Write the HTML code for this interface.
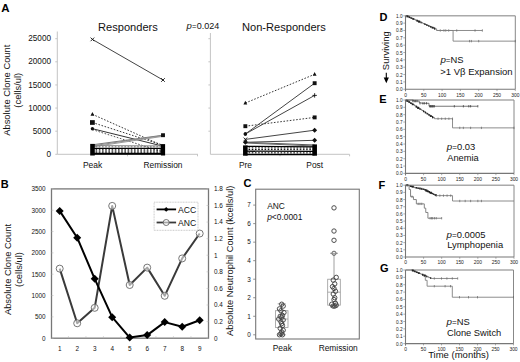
<!DOCTYPE html>
<html><head><meta charset="utf-8"><style>
html,body{margin:0;padding:0;background:#fff;width:520px;height:362px;overflow:hidden}
svg{display:block}
text{font-family:"Liberation Sans",sans-serif}
</style></head><body>
<svg width="520" height="362" viewBox="0 0 520 362" font-family="Liberation Sans, sans-serif">
<rect width="520" height="362" fill="#fff"/>
<text x="1.30" y="12.30" font-size="11.5" text-anchor="start" font-weight="bold" fill="#000" >A</text>
<line x1="57.30" y1="31.50" x2="57.30" y2="154.30" stroke="#c4c4c4" stroke-width="1" />
<line x1="57.30" y1="154.30" x2="198.00" y2="154.30" stroke="#c4c4c4" stroke-width="1" />
<line x1="55.30" y1="154.30" x2="57.30" y2="154.30" stroke="#c4c4c4" stroke-width="1" />
<text x="51.00" y="156.90" font-size="8.2" text-anchor="end" font-weight="normal" fill="#111" >0</text>
<line x1="55.30" y1="131.18" x2="57.30" y2="131.18" stroke="#c4c4c4" stroke-width="1" />
<text x="51.00" y="133.78" font-size="8.2" text-anchor="end" font-weight="normal" fill="#111" >5000</text>
<line x1="55.30" y1="108.06" x2="57.30" y2="108.06" stroke="#c4c4c4" stroke-width="1" />
<text x="51.00" y="110.66" font-size="8.2" text-anchor="end" font-weight="normal" fill="#111" >10000</text>
<line x1="55.30" y1="84.94" x2="57.30" y2="84.94" stroke="#c4c4c4" stroke-width="1" />
<text x="51.00" y="87.54" font-size="8.2" text-anchor="end" font-weight="normal" fill="#111" >15000</text>
<line x1="55.30" y1="61.82" x2="57.30" y2="61.82" stroke="#c4c4c4" stroke-width="1" />
<text x="51.00" y="64.42" font-size="8.2" text-anchor="end" font-weight="normal" fill="#111" >20000</text>
<line x1="55.30" y1="38.70" x2="57.30" y2="38.70" stroke="#c4c4c4" stroke-width="1" />
<text x="51.00" y="41.30" font-size="8.2" text-anchor="end" font-weight="normal" fill="#111" >25000</text>
<line x1="210.40" y1="33.00" x2="210.40" y2="154.30" stroke="#c4c4c4" stroke-width="1" />
<line x1="210.40" y1="154.30" x2="349.60" y2="154.30" stroke="#c4c4c4" stroke-width="1" />
<line x1="208.40" y1="131.18" x2="210.40" y2="131.18" stroke="#c4c4c4" stroke-width="1" />
<line x1="208.40" y1="108.06" x2="210.40" y2="108.06" stroke="#c4c4c4" stroke-width="1" />
<line x1="208.40" y1="84.94" x2="210.40" y2="84.94" stroke="#c4c4c4" stroke-width="1" />
<line x1="208.40" y1="61.82" x2="210.40" y2="61.82" stroke="#c4c4c4" stroke-width="1" />
<line x1="208.40" y1="38.70" x2="210.40" y2="38.70" stroke="#c4c4c4" stroke-width="1" />
<line x1="127.50" y1="154.30" x2="127.50" y2="156.30" stroke="#c4c4c4" stroke-width="1" />
<line x1="197.50" y1="154.30" x2="197.50" y2="156.30" stroke="#c4c4c4" stroke-width="1" />
<line x1="280.00" y1="154.30" x2="280.00" y2="156.30" stroke="#c4c4c4" stroke-width="1" />
<line x1="349.60" y1="154.30" x2="349.60" y2="156.30" stroke="#c4c4c4" stroke-width="1" />
<text x="98.00" y="30.60" font-size="11.1" text-anchor="start" font-weight="normal" fill="#111" >Responders</text>
<text x="242.00" y="30.60" font-size="11.1" text-anchor="start" font-weight="normal" fill="#111" >Non-Responders</text>
<text x="186.4" y="29.4" font-size="9.0" fill="#111"><tspan font-style="italic" font-size="9.6">p</tspan><tspan font-size="7.5" dx="0.3">=</tspan><tspan dx="0.2">0.024</tspan></text>
<g transform="translate(9.9,90.2) rotate(-90)"><text x="0" y="0" font-size="9.4" text-anchor="middle" fill="#111">Absolute Clone Count</text><text x="0" y="11.2" font-size="9.4" text-anchor="middle" fill="#111">(cells/ul)</text></g>
<text x="92.60" y="168.40" font-size="8.5" text-anchor="middle" font-weight="normal" fill="#111" >Peak</text>
<text x="163.00" y="168.40" font-size="8.4" text-anchor="middle" font-weight="normal" fill="#111" >Remission</text>
<text x="245.40" y="168.40" font-size="8.4" text-anchor="middle" font-weight="normal" fill="#111" >Pre</text>
<text x="314.70" y="168.40" font-size="8.4" text-anchor="middle" font-weight="normal" fill="#111" >Post</text>
<line x1="92.40" y1="39.40" x2="163.00" y2="80.00" stroke="#444" stroke-width="1.0" />
<line x1="92.40" y1="114.30" x2="163.00" y2="145.80" stroke="#222" stroke-width="0.9" stroke-dasharray="1.6,1.6"/>
<line x1="92.40" y1="122.50" x2="163.00" y2="145.20" stroke="#222" stroke-width="0.9" stroke-dasharray="1.6,1.6"/>
<line x1="92.40" y1="128.70" x2="163.00" y2="146.20" stroke="#333" stroke-width="1.0" />
<line x1="92.40" y1="129.60" x2="163.00" y2="152.00" stroke="#444" stroke-width="0.9" stroke-dasharray="1.6,1.6"/>
<line x1="92.40" y1="144.80" x2="163.00" y2="135.20" stroke="#777" stroke-width="1.0" />
<line x1="92.40" y1="145.80" x2="163.00" y2="135.60" stroke="#8a8a8a" stroke-width="1.0" />
<line x1="92.40" y1="146.80" x2="163.00" y2="136.30" stroke="#999" stroke-width="1.0" />
<line x1="92.40" y1="145.60" x2="163.00" y2="145.90" stroke="#888" stroke-width="1.0" />
<line x1="92.40" y1="146.80" x2="163.00" y2="146.80" stroke="#666" stroke-width="0.9" stroke-dasharray="1.6,1.6"/>
<line x1="92.40" y1="148.30" x2="163.00" y2="148.30" stroke="#000" stroke-width="1.3" />
<line x1="92.40" y1="149.70" x2="163.00" y2="149.90" stroke="#111" stroke-width="1.0" stroke-dasharray="1.6,1.6"/>
<line x1="92.40" y1="151.00" x2="163.00" y2="151.00" stroke="#111" stroke-width="1.0" stroke-dasharray="1.6,1.6"/>
<line x1="92.40" y1="152.20" x2="163.00" y2="152.20" stroke="#111" stroke-width="1.0" stroke-dasharray="1.6,1.6"/>
<line x1="92.40" y1="153.30" x2="163.00" y2="153.30" stroke="#000" stroke-width="1.3" />
<line x1="92.40" y1="154.30" x2="163.00" y2="154.30" stroke="#000" stroke-width="1.0" />
<line x1="90.60" y1="37.60" x2="94.20" y2="41.20" stroke="#111" stroke-width="0.9" />
<line x1="90.60" y1="41.20" x2="94.20" y2="37.60" stroke="#111" stroke-width="0.9" />
<line x1="161.20" y1="78.20" x2="164.80" y2="81.80" stroke="#111" stroke-width="0.9" />
<line x1="161.20" y1="81.80" x2="164.80" y2="78.20" stroke="#111" stroke-width="0.9" />
<polygon points="92.40,112.10 94.30,115.80 90.50,115.80" fill="#111"/>
<rect x="90.00" y="120.15" width="4.8" height="4.7" fill="#111"/>
<circle cx="92.40" cy="128.70" r="1.70" fill="#111"/>
<rect x="161.05" y="133.25" width="3.90" height="3.90" fill="#111"/>
<rect x="90.2" y="143.9" width="4.6" height="11.6" fill="#000"/>
<rect x="160.9" y="144.1" width="4.2" height="11.4" fill="#000"/>
<line x1="245.35" y1="103.00" x2="314.65" y2="74.30" stroke="#222" stroke-width="0.9" stroke-dasharray="1.6,1.6"/>
<line x1="245.35" y1="126.20" x2="314.65" y2="117.40" stroke="#222" stroke-width="0.9" stroke-dasharray="1.6,1.6"/>
<line x1="245.35" y1="134.00" x2="314.65" y2="83.20" stroke="#444" stroke-width="1.0" />
<line x1="245.35" y1="134.00" x2="314.65" y2="95.40" stroke="#444" stroke-width="1.0" />
<line x1="245.35" y1="139.40" x2="314.65" y2="130.20" stroke="#444" stroke-width="1.0" />
<line x1="245.35" y1="142.30" x2="314.65" y2="140.30" stroke="#444" stroke-width="1.0" />
<line x1="245.35" y1="142.30" x2="314.65" y2="145.00" stroke="#555" stroke-width="1.0" />
<line x1="245.35" y1="143.00" x2="314.65" y2="146.00" stroke="#666" stroke-width="1.0" />
<line x1="245.35" y1="146.30" x2="314.65" y2="146.80" stroke="#000" stroke-width="1.3" />
<line x1="245.35" y1="147.90" x2="314.65" y2="148.10" stroke="#000" stroke-width="1.0" stroke-dasharray="1.6,1.6"/>
<line x1="245.35" y1="149.50" x2="314.65" y2="149.70" stroke="#000" stroke-width="1.0" stroke-dasharray="1.6,1.6"/>
<line x1="245.35" y1="151.20" x2="314.65" y2="151.40" stroke="#000" stroke-width="1.3" />
<line x1="245.35" y1="152.80" x2="314.65" y2="152.90" stroke="#000" stroke-width="1.0" stroke-dasharray="1.6,1.6"/>
<line x1="245.35" y1="154.50" x2="314.65" y2="154.50" stroke="#000" stroke-width="1.5" />
<polygon points="245.35,100.80 247.25,104.50 243.45,104.50" fill="#111"/>
<polygon points="314.65,72.10 316.55,75.80 312.75,75.80" fill="#111"/>
<rect x="243.40" y="124.25" width="3.90" height="3.90" fill="#111"/>
<rect x="312.70" y="115.45" width="3.90" height="3.90" fill="#111"/>
<circle cx="245.35" cy="134.00" r="1.70" fill="#111"/>
<rect x="312.70" y="81.25" width="3.90" height="3.90" fill="#111"/>
<circle cx="245.35" cy="134.00" r="1.70" fill="#111"/>
<line x1="312.45" y1="95.40" x2="316.85" y2="95.40" stroke="#111" stroke-width="0.9" />
<line x1="314.65" y1="93.20" x2="314.65" y2="97.60" stroke="#111" stroke-width="0.9" />
<line x1="243.55" y1="137.60" x2="247.15" y2="141.20" stroke="#111" stroke-width="0.9" />
<line x1="243.55" y1="141.20" x2="247.15" y2="137.60" stroke="#111" stroke-width="0.9" />
<polygon points="314.65,127.70 317.15,130.20 314.65,132.70 312.15,130.20" fill="#111"/>
<polygon points="245.35,139.80 247.85,142.30 245.35,144.80 242.85,142.30" fill="#111"/>
<polygon points="314.65,137.80 317.15,140.30 314.65,142.80 312.15,140.30" fill="#111"/>
<rect x="243.05" y="145.4" width="4.6" height="10.3" fill="#000"/>
<rect x="312.35" y="144.4" width="4.6" height="11.3" fill="#000"/>
<text x="0.70" y="187.60" font-size="11.0" text-anchor="start" font-weight="bold" fill="#000" >B</text>
<rect x="51.50" y="188.90" width="157.00" height="149.30" stroke="#777" stroke-width="1.3" fill="none"/>
<line x1="51.50" y1="338.20" x2="53.50" y2="338.20" stroke="#bbb" stroke-width="0.6" />
<text x="45.60" y="340.50" font-size="6.4" text-anchor="end" font-weight="normal" fill="#111" >0</text>
<line x1="51.50" y1="316.87" x2="53.50" y2="316.87" stroke="#bbb" stroke-width="0.6" />
<text x="45.60" y="319.17" font-size="6.4" text-anchor="end" font-weight="normal" fill="#111" >500</text>
<line x1="51.50" y1="295.54" x2="53.50" y2="295.54" stroke="#bbb" stroke-width="0.6" />
<text x="45.60" y="297.84" font-size="6.4" text-anchor="end" font-weight="normal" fill="#111" >1000</text>
<line x1="51.50" y1="274.21" x2="53.50" y2="274.21" stroke="#bbb" stroke-width="0.6" />
<text x="45.60" y="276.51" font-size="6.4" text-anchor="end" font-weight="normal" fill="#111" >1500</text>
<line x1="51.50" y1="252.89" x2="53.50" y2="252.89" stroke="#bbb" stroke-width="0.6" />
<text x="45.60" y="255.19" font-size="6.4" text-anchor="end" font-weight="normal" fill="#111" >2000</text>
<line x1="51.50" y1="231.56" x2="53.50" y2="231.56" stroke="#bbb" stroke-width="0.6" />
<text x="45.60" y="233.86" font-size="6.4" text-anchor="end" font-weight="normal" fill="#111" >2500</text>
<line x1="51.50" y1="210.23" x2="53.50" y2="210.23" stroke="#bbb" stroke-width="0.6" />
<text x="45.60" y="212.53" font-size="6.4" text-anchor="end" font-weight="normal" fill="#111" >3000</text>
<line x1="51.50" y1="188.90" x2="53.50" y2="188.90" stroke="#bbb" stroke-width="0.6" />
<text x="45.60" y="191.20" font-size="6.4" text-anchor="end" font-weight="normal" fill="#111" >3500</text>
<line x1="206.50" y1="338.20" x2="208.50" y2="338.20" stroke="#bbb" stroke-width="0.6" />
<text x="214.00" y="340.50" font-size="6.4" text-anchor="start" font-weight="normal" fill="#111" >0</text>
<line x1="206.50" y1="321.61" x2="208.50" y2="321.61" stroke="#bbb" stroke-width="0.6" />
<text x="214.00" y="323.91" font-size="6.4" text-anchor="start" font-weight="normal" fill="#111" >0.2</text>
<line x1="206.50" y1="305.02" x2="208.50" y2="305.02" stroke="#bbb" stroke-width="0.6" />
<text x="214.00" y="307.32" font-size="6.4" text-anchor="start" font-weight="normal" fill="#111" >0.4</text>
<line x1="206.50" y1="288.43" x2="208.50" y2="288.43" stroke="#bbb" stroke-width="0.6" />
<text x="214.00" y="290.73" font-size="6.4" text-anchor="start" font-weight="normal" fill="#111" >0.6</text>
<line x1="206.50" y1="271.84" x2="208.50" y2="271.84" stroke="#bbb" stroke-width="0.6" />
<text x="214.00" y="274.14" font-size="6.4" text-anchor="start" font-weight="normal" fill="#111" >0.8</text>
<line x1="206.50" y1="255.26" x2="208.50" y2="255.26" stroke="#bbb" stroke-width="0.6" />
<text x="214.00" y="257.56" font-size="6.4" text-anchor="start" font-weight="normal" fill="#111" >1</text>
<line x1="206.50" y1="238.67" x2="208.50" y2="238.67" stroke="#bbb" stroke-width="0.6" />
<text x="214.00" y="240.97" font-size="6.4" text-anchor="start" font-weight="normal" fill="#111" >1.2</text>
<line x1="206.50" y1="222.08" x2="208.50" y2="222.08" stroke="#bbb" stroke-width="0.6" />
<text x="214.00" y="224.38" font-size="6.4" text-anchor="start" font-weight="normal" fill="#111" >1.4</text>
<line x1="206.50" y1="205.49" x2="208.50" y2="205.49" stroke="#bbb" stroke-width="0.6" />
<text x="214.00" y="207.79" font-size="6.4" text-anchor="start" font-weight="normal" fill="#111" >1.6</text>
<line x1="206.50" y1="188.90" x2="208.50" y2="188.90" stroke="#bbb" stroke-width="0.6" />
<text x="214.00" y="191.20" font-size="6.4" text-anchor="start" font-weight="normal" fill="#111" >1.8</text>
<line x1="68.45" y1="338.20" x2="68.45" y2="336.20" stroke="#bbb" stroke-width="0.6" />
<text x="59.70" y="350.90" font-size="6.4" text-anchor="middle" font-weight="normal" fill="#111" >1</text>
<line x1="85.95" y1="338.20" x2="85.95" y2="336.20" stroke="#bbb" stroke-width="0.6" />
<text x="77.20" y="350.90" font-size="6.4" text-anchor="middle" font-weight="normal" fill="#111" >2</text>
<line x1="103.45" y1="338.20" x2="103.45" y2="336.20" stroke="#bbb" stroke-width="0.6" />
<text x="94.70" y="350.90" font-size="6.4" text-anchor="middle" font-weight="normal" fill="#111" >3</text>
<line x1="120.95" y1="338.20" x2="120.95" y2="336.20" stroke="#bbb" stroke-width="0.6" />
<text x="112.20" y="350.90" font-size="6.4" text-anchor="middle" font-weight="normal" fill="#111" >4</text>
<line x1="138.45" y1="338.20" x2="138.45" y2="336.20" stroke="#bbb" stroke-width="0.6" />
<text x="129.70" y="350.90" font-size="6.4" text-anchor="middle" font-weight="normal" fill="#111" >5</text>
<line x1="155.95" y1="338.20" x2="155.95" y2="336.20" stroke="#bbb" stroke-width="0.6" />
<text x="147.20" y="350.90" font-size="6.4" text-anchor="middle" font-weight="normal" fill="#111" >6</text>
<line x1="173.45" y1="338.20" x2="173.45" y2="336.20" stroke="#bbb" stroke-width="0.6" />
<text x="164.70" y="350.90" font-size="6.4" text-anchor="middle" font-weight="normal" fill="#111" >7</text>
<line x1="190.95" y1="338.20" x2="190.95" y2="336.20" stroke="#bbb" stroke-width="0.6" />
<text x="182.20" y="350.90" font-size="6.4" text-anchor="middle" font-weight="normal" fill="#111" >8</text>
<text x="199.70" y="350.90" font-size="6.4" text-anchor="middle" font-weight="normal" fill="#111" >9</text>
<polyline points="59.70,268.61 77.20,323.27 94.70,307.84 112.20,205.90 129.70,285.03 147.20,267.61 164.70,295.82 182.20,258.41 199.70,233.52" stroke="#3a3a3a" stroke-width="2.0" fill="none" stroke-linejoin="round"/>
<polyline points="59.70,210.91 77.20,237.70 94.70,278.82 112.20,317.21 129.70,337.60 147.20,335.09 164.70,322.12 182.20,326.81 199.70,320.28" stroke="#000" stroke-width="2.0" fill="none" stroke-linejoin="round"/>
<circle cx="59.70" cy="268.61" r="3.5" fill="rgba(255,255,255,0.55)" stroke="#666" stroke-width="0.9"/>
<circle cx="77.20" cy="323.27" r="3.5" fill="rgba(255,255,255,0.55)" stroke="#666" stroke-width="0.9"/>
<circle cx="94.70" cy="307.84" r="3.5" fill="rgba(255,255,255,0.55)" stroke="#666" stroke-width="0.9"/>
<circle cx="112.20" cy="205.90" r="3.5" fill="rgba(255,255,255,0.55)" stroke="#666" stroke-width="0.9"/>
<circle cx="129.70" cy="285.03" r="3.5" fill="rgba(255,255,255,0.55)" stroke="#666" stroke-width="0.9"/>
<circle cx="147.20" cy="267.61" r="3.5" fill="rgba(255,255,255,0.55)" stroke="#666" stroke-width="0.9"/>
<circle cx="164.70" cy="295.82" r="3.5" fill="rgba(255,255,255,0.55)" stroke="#666" stroke-width="0.9"/>
<circle cx="182.20" cy="258.41" r="3.5" fill="rgba(255,255,255,0.55)" stroke="#666" stroke-width="0.9"/>
<circle cx="199.70" cy="233.52" r="3.5" fill="rgba(255,255,255,0.55)" stroke="#666" stroke-width="0.9"/>
<polygon points="59.70,206.91 63.70,210.91 59.70,214.91 55.70,210.91" fill="#000"/>
<polygon points="77.20,233.70 81.20,237.70 77.20,241.70 73.20,237.70" fill="#000"/>
<polygon points="94.70,274.82 98.70,278.82 94.70,282.82 90.70,278.82" fill="#000"/>
<polygon points="112.20,313.21 116.20,317.21 112.20,321.21 108.20,317.21" fill="#000"/>
<polygon points="129.70,333.60 133.70,337.60 129.70,341.60 125.70,337.60" fill="#000"/>
<polygon points="147.20,331.09 151.20,335.09 147.20,339.09 143.20,335.09" fill="#000"/>
<polygon points="164.70,318.12 168.70,322.12 164.70,326.12 160.70,322.12" fill="#000"/>
<polygon points="182.20,322.81 186.20,326.81 182.20,330.81 178.20,326.81" fill="#000"/>
<polygon points="199.70,316.28 203.70,320.28 199.70,324.28 195.70,320.28" fill="#000"/>
<rect x="154.1" y="202.2" width="43.9" height="28.1" fill="white" stroke="#bbb" stroke-width="0.8" stroke-dasharray="1,0.6"/>
<line x1="156.60" y1="209.40" x2="176.10" y2="209.40" stroke="#000" stroke-width="1.8" />
<polygon points="166.2,207.0 168.6,209.4 166.2,211.8 163.8,209.4" fill="#000"/>
<line x1="156.60" y1="222.50" x2="176.10" y2="222.50" stroke="#3a3a3a" stroke-width="1.8" />
<circle cx="166.2" cy="222.5" r="3.0" fill="rgba(255,255,255,0.55)" stroke="#666" stroke-width="0.9"/>
<text x="178.00" y="213.20" font-size="8.6" text-anchor="start" font-weight="normal" fill="#111" >ACC</text>
<text x="178.00" y="225.60" font-size="8.6" text-anchor="start" font-weight="normal" fill="#111" >ANC</text>
<g transform="translate(11.2,269.5) rotate(-90)"><text x="0" y="0" font-size="9.4" text-anchor="middle" fill="#111">Absolute Clone Count</text><text x="0" y="11.2" font-size="9.4" text-anchor="middle" fill="#111">(cells/ul)</text></g>
<g transform="translate(233.2,260.8) rotate(-90)"><text x="0" y="0" font-size="9.3" text-anchor="middle" fill="#111">Absolute Neutrophil Count (kcells/ul)</text></g>
<text x="243.50" y="186.90" font-size="11.0" text-anchor="start" font-weight="bold" fill="#000" >C</text>
<rect x="255.70" y="189.20" width="103.60" height="149.80" stroke="#777" stroke-width="1.1" fill="none"/>
<line x1="253.20" y1="334.80" x2="255.70" y2="334.80" stroke="#777" stroke-width="0.8" />
<text x="250.70" y="337.10" font-size="6.4" text-anchor="end" font-weight="normal" fill="#111" >0</text>
<line x1="253.20" y1="316.27" x2="255.70" y2="316.27" stroke="#777" stroke-width="0.8" />
<text x="250.70" y="318.57" font-size="6.4" text-anchor="end" font-weight="normal" fill="#111" >1</text>
<line x1="253.20" y1="297.74" x2="255.70" y2="297.74" stroke="#777" stroke-width="0.8" />
<text x="250.70" y="300.04" font-size="6.4" text-anchor="end" font-weight="normal" fill="#111" >2</text>
<line x1="253.20" y1="279.21" x2="255.70" y2="279.21" stroke="#777" stroke-width="0.8" />
<text x="250.70" y="281.51" font-size="6.4" text-anchor="end" font-weight="normal" fill="#111" >3</text>
<line x1="253.20" y1="260.68" x2="255.70" y2="260.68" stroke="#777" stroke-width="0.8" />
<text x="250.70" y="262.98" font-size="6.4" text-anchor="end" font-weight="normal" fill="#111" >4</text>
<line x1="253.20" y1="242.15" x2="255.70" y2="242.15" stroke="#777" stroke-width="0.8" />
<text x="250.70" y="244.45" font-size="6.4" text-anchor="end" font-weight="normal" fill="#111" >5</text>
<line x1="253.20" y1="223.62" x2="255.70" y2="223.62" stroke="#777" stroke-width="0.8" />
<text x="250.70" y="225.92" font-size="6.4" text-anchor="end" font-weight="normal" fill="#111" >6</text>
<line x1="253.20" y1="205.09" x2="255.70" y2="205.09" stroke="#777" stroke-width="0.8" />
<text x="250.70" y="207.39" font-size="6.4" text-anchor="end" font-weight="normal" fill="#111" >7</text>
<text x="267.20" y="209.30" font-size="8.4" text-anchor="start" font-weight="normal" fill="#111" >ANC</text>
<text x="267.2" y="219.7" font-size="8.4" fill="#111"><tspan font-style="italic">p</tspan>&lt;0.0001</text>
<text x="282.30" y="350.60" font-size="8.4" text-anchor="middle" font-weight="normal" fill="#111" >Peak</text>
<text x="338.20" y="350.60" font-size="8.4" text-anchor="middle" font-weight="normal" fill="#111" >Remission</text>
<line x1="281.70" y1="303.85" x2="281.70" y2="310.71" stroke="#888" stroke-width="0.8" />
<line x1="281.70" y1="327.39" x2="281.70" y2="334.80" stroke="#888" stroke-width="0.8" />
<line x1="277.70" y1="303.85" x2="285.70" y2="303.85" stroke="#888" stroke-width="0.8" />
<line x1="277.70" y1="334.80" x2="285.70" y2="334.80" stroke="#888" stroke-width="0.8" />
<rect x="275.40" y="310.71" width="12.60" height="16.68" stroke="#999" stroke-width="0.8" fill="none"/>
<line x1="275.40" y1="319.05" x2="288.00" y2="319.05" stroke="#999" stroke-width="0.8" />
<circle cx="279.45" cy="308.86" r="2.2" fill="none" stroke="#444" stroke-width="0.95"/>
<circle cx="283.20" cy="306.08" r="2.2" fill="none" stroke="#444" stroke-width="0.95"/>
<circle cx="281.70" cy="304.23" r="2.2" fill="none" stroke="#444" stroke-width="0.95"/>
<circle cx="280.95" cy="310.71" r="2.2" fill="none" stroke="#444" stroke-width="0.95"/>
<circle cx="283.95" cy="312.56" r="2.2" fill="none" stroke="#444" stroke-width="0.95"/>
<circle cx="282.45" cy="315.34" r="2.2" fill="none" stroke="#444" stroke-width="0.95"/>
<circle cx="280.20" cy="316.27" r="2.2" fill="none" stroke="#444" stroke-width="0.95"/>
<circle cx="281.70" cy="317.20" r="2.2" fill="none" stroke="#444" stroke-width="0.95"/>
<circle cx="278.70" cy="319.05" r="2.2" fill="none" stroke="#444" stroke-width="0.95"/>
<circle cx="283.20" cy="319.98" r="2.2" fill="none" stroke="#444" stroke-width="0.95"/>
<circle cx="280.95" cy="321.83" r="2.2" fill="none" stroke="#444" stroke-width="0.95"/>
<circle cx="281.70" cy="323.68" r="2.2" fill="none" stroke="#444" stroke-width="0.95"/>
<circle cx="282.45" cy="325.54" r="2.2" fill="none" stroke="#444" stroke-width="0.95"/>
<circle cx="280.20" cy="328.31" r="2.2" fill="none" stroke="#444" stroke-width="0.95"/>
<circle cx="283.20" cy="330.17" r="2.2" fill="none" stroke="#444" stroke-width="0.95"/>
<circle cx="281.70" cy="332.02" r="2.2" fill="none" stroke="#444" stroke-width="0.95"/>
<circle cx="280.95" cy="333.87" r="2.2" fill="none" stroke="#444" stroke-width="0.95"/>
<circle cx="282.45" cy="334.80" r="2.2" fill="none" stroke="#444" stroke-width="0.95"/>
<circle cx="279.45" cy="334.80" r="2.2" fill="none" stroke="#444" stroke-width="0.95"/>
<line x1="334.00" y1="253.27" x2="334.00" y2="279.21" stroke="#888" stroke-width="0.8" />
<line x1="334.00" y1="305.15" x2="334.00" y2="307.00" stroke="#888" stroke-width="0.8" />
<line x1="330.00" y1="253.27" x2="338.00" y2="253.27" stroke="#888" stroke-width="0.8" />
<line x1="330.00" y1="307.00" x2="338.00" y2="307.00" stroke="#888" stroke-width="0.8" />
<rect x="327.70" y="279.21" width="12.60" height="25.94" stroke="#999" stroke-width="0.8" fill="none"/>
<line x1="327.70" y1="292.18" x2="340.30" y2="292.18" stroke="#999" stroke-width="0.8" />
<circle cx="336.25" cy="277.36" r="2.2" fill="none" stroke="#444" stroke-width="0.95"/>
<circle cx="333.25" cy="280.14" r="2.2" fill="none" stroke="#444" stroke-width="0.95"/>
<circle cx="334.75" cy="283.84" r="2.2" fill="none" stroke="#444" stroke-width="0.95"/>
<circle cx="332.50" cy="286.62" r="2.2" fill="none" stroke="#444" stroke-width="0.95"/>
<circle cx="334.00" cy="288.48" r="2.2" fill="none" stroke="#444" stroke-width="0.95"/>
<circle cx="335.50" cy="291.25" r="2.2" fill="none" stroke="#444" stroke-width="0.95"/>
<circle cx="333.25" cy="294.03" r="2.2" fill="none" stroke="#444" stroke-width="0.95"/>
<circle cx="334.75" cy="297.74" r="2.2" fill="none" stroke="#444" stroke-width="0.95"/>
<circle cx="334.00" cy="299.59" r="2.2" fill="none" stroke="#444" stroke-width="0.95"/>
<circle cx="331.75" cy="304.23" r="2.2" fill="none" stroke="#444" stroke-width="0.95"/>
<circle cx="336.25" cy="305.15" r="2.2" fill="none" stroke="#444" stroke-width="0.95"/>
<circle cx="333.25" cy="306.08" r="2.2" fill="none" stroke="#444" stroke-width="0.95"/>
<circle cx="334.75" cy="306.08" r="2.2" fill="none" stroke="#444" stroke-width="0.95"/>
<circle cx="335.50" cy="303.30" r="2.2" fill="none" stroke="#444" stroke-width="0.95"/>
<circle cx="334.00" cy="240.30" r="2.2" fill="none" stroke="#444" stroke-width="0.95"/>
<circle cx="334.00" cy="231.03" r="2.2" fill="none" stroke="#444" stroke-width="0.95"/>
<circle cx="334.00" cy="207.87" r="2.2" fill="none" stroke="#444" stroke-width="0.95"/>
<circle cx="334.0" cy="253.27" r="2.1" fill="none" stroke="#555" stroke-width="0.9"/>
<text x="379.60" y="21.20" font-size="11.0" text-anchor="start" font-weight="bold" fill="#000" >D</text>
<line x1="405.50" y1="15.80" x2="515.30" y2="15.80" stroke="#aaa" stroke-width="1.5" />
<line x1="515.30" y1="15.80" x2="515.30" y2="89.25" stroke="#888" stroke-width="1.0" />
<line x1="405.50" y1="15.80" x2="405.50" y2="91.25" stroke="#777" stroke-width="1.1" />
<line x1="405.50" y1="89.25" x2="515.30" y2="89.25" stroke="#777" stroke-width="1.1" />
<line x1="403.30" y1="89.25" x2="405.50" y2="89.25" stroke="#777" stroke-width="0.6" />
<text x="402.50" y="91.25" font-size="4.7" text-anchor="end" font-weight="normal" fill="#222" >0.0</text>
<line x1="403.30" y1="81.91" x2="405.50" y2="81.91" stroke="#777" stroke-width="0.6" />
<text x="402.50" y="83.91" font-size="4.7" text-anchor="end" font-weight="normal" fill="#222" >0.1</text>
<line x1="403.30" y1="74.56" x2="405.50" y2="74.56" stroke="#777" stroke-width="0.6" />
<text x="402.50" y="76.56" font-size="4.7" text-anchor="end" font-weight="normal" fill="#222" >0.2</text>
<line x1="403.30" y1="67.22" x2="405.50" y2="67.22" stroke="#777" stroke-width="0.6" />
<text x="402.50" y="69.22" font-size="4.7" text-anchor="end" font-weight="normal" fill="#222" >0.3</text>
<line x1="403.30" y1="59.87" x2="405.50" y2="59.87" stroke="#777" stroke-width="0.6" />
<text x="402.50" y="61.87" font-size="4.7" text-anchor="end" font-weight="normal" fill="#222" >0.4</text>
<line x1="403.30" y1="52.52" x2="405.50" y2="52.52" stroke="#777" stroke-width="0.6" />
<text x="402.50" y="54.52" font-size="4.7" text-anchor="end" font-weight="normal" fill="#222" >0.5</text>
<line x1="403.30" y1="45.18" x2="405.50" y2="45.18" stroke="#777" stroke-width="0.6" />
<text x="402.50" y="47.18" font-size="4.7" text-anchor="end" font-weight="normal" fill="#222" >0.6</text>
<line x1="403.30" y1="37.84" x2="405.50" y2="37.84" stroke="#777" stroke-width="0.6" />
<text x="402.50" y="39.84" font-size="4.7" text-anchor="end" font-weight="normal" fill="#222" >0.7</text>
<line x1="403.30" y1="30.49" x2="405.50" y2="30.49" stroke="#777" stroke-width="0.6" />
<text x="402.50" y="32.49" font-size="4.7" text-anchor="end" font-weight="normal" fill="#222" >0.8</text>
<line x1="403.30" y1="23.14" x2="405.50" y2="23.14" stroke="#777" stroke-width="0.6" />
<text x="402.50" y="25.14" font-size="4.7" text-anchor="end" font-weight="normal" fill="#222" >0.9</text>
<line x1="403.30" y1="15.80" x2="405.50" y2="15.80" stroke="#777" stroke-width="0.6" />
<text x="402.50" y="17.80" font-size="4.7" text-anchor="end" font-weight="normal" fill="#222" >1.0</text>
<line x1="405.50" y1="89.25" x2="405.50" y2="91.05" stroke="#777" stroke-width="0.6" />
<text x="405.50" y="96.55" font-size="4.9" text-anchor="middle" font-weight="normal" fill="#222" >0</text>
<line x1="423.80" y1="89.25" x2="423.80" y2="91.05" stroke="#777" stroke-width="0.6" />
<text x="423.80" y="96.55" font-size="4.9" text-anchor="middle" font-weight="normal" fill="#222" >50</text>
<line x1="442.10" y1="89.25" x2="442.10" y2="91.05" stroke="#777" stroke-width="0.6" />
<text x="442.10" y="96.55" font-size="4.9" text-anchor="middle" font-weight="normal" fill="#222" >100</text>
<line x1="460.40" y1="89.25" x2="460.40" y2="91.05" stroke="#777" stroke-width="0.6" />
<text x="460.40" y="96.55" font-size="4.9" text-anchor="middle" font-weight="normal" fill="#222" >150</text>
<line x1="478.70" y1="89.25" x2="478.70" y2="91.05" stroke="#777" stroke-width="0.6" />
<text x="478.70" y="96.55" font-size="4.9" text-anchor="middle" font-weight="normal" fill="#222" >200</text>
<line x1="497.00" y1="89.25" x2="497.00" y2="91.05" stroke="#777" stroke-width="0.6" />
<text x="497.00" y="96.55" font-size="4.9" text-anchor="middle" font-weight="normal" fill="#222" >250</text>
<line x1="515.30" y1="89.25" x2="515.30" y2="91.05" stroke="#777" stroke-width="0.6" />
<text x="515.30" y="96.55" font-size="4.9" text-anchor="middle" font-weight="normal" fill="#222" >300</text>
<text x="379.30" y="103.30" font-size="11.0" text-anchor="start" font-weight="bold" fill="#000" >E</text>
<line x1="405.50" y1="100.00" x2="514.00" y2="100.00" stroke="#aaa" stroke-width="1.5" />
<line x1="514.00" y1="100.00" x2="514.00" y2="173.40" stroke="#888" stroke-width="1.0" />
<line x1="405.50" y1="100.00" x2="405.50" y2="175.40" stroke="#777" stroke-width="1.1" />
<line x1="405.50" y1="173.40" x2="514.00" y2="173.40" stroke="#777" stroke-width="1.1" />
<line x1="403.30" y1="173.40" x2="405.50" y2="173.40" stroke="#777" stroke-width="0.6" />
<text x="402.50" y="175.40" font-size="4.7" text-anchor="end" font-weight="normal" fill="#222" >0.0</text>
<line x1="403.30" y1="166.06" x2="405.50" y2="166.06" stroke="#777" stroke-width="0.6" />
<text x="402.50" y="168.06" font-size="4.7" text-anchor="end" font-weight="normal" fill="#222" >0.1</text>
<line x1="403.30" y1="158.72" x2="405.50" y2="158.72" stroke="#777" stroke-width="0.6" />
<text x="402.50" y="160.72" font-size="4.7" text-anchor="end" font-weight="normal" fill="#222" >0.2</text>
<line x1="403.30" y1="151.38" x2="405.50" y2="151.38" stroke="#777" stroke-width="0.6" />
<text x="402.50" y="153.38" font-size="4.7" text-anchor="end" font-weight="normal" fill="#222" >0.3</text>
<line x1="403.30" y1="144.04" x2="405.50" y2="144.04" stroke="#777" stroke-width="0.6" />
<text x="402.50" y="146.04" font-size="4.7" text-anchor="end" font-weight="normal" fill="#222" >0.4</text>
<line x1="403.30" y1="136.70" x2="405.50" y2="136.70" stroke="#777" stroke-width="0.6" />
<text x="402.50" y="138.70" font-size="4.7" text-anchor="end" font-weight="normal" fill="#222" >0.5</text>
<line x1="403.30" y1="129.36" x2="405.50" y2="129.36" stroke="#777" stroke-width="0.6" />
<text x="402.50" y="131.36" font-size="4.7" text-anchor="end" font-weight="normal" fill="#222" >0.6</text>
<line x1="403.30" y1="122.02" x2="405.50" y2="122.02" stroke="#777" stroke-width="0.6" />
<text x="402.50" y="124.02" font-size="4.7" text-anchor="end" font-weight="normal" fill="#222" >0.7</text>
<line x1="403.30" y1="114.68" x2="405.50" y2="114.68" stroke="#777" stroke-width="0.6" />
<text x="402.50" y="116.68" font-size="4.7" text-anchor="end" font-weight="normal" fill="#222" >0.8</text>
<line x1="403.30" y1="107.34" x2="405.50" y2="107.34" stroke="#777" stroke-width="0.6" />
<text x="402.50" y="109.34" font-size="4.7" text-anchor="end" font-weight="normal" fill="#222" >0.9</text>
<line x1="403.30" y1="100.00" x2="405.50" y2="100.00" stroke="#777" stroke-width="0.6" />
<text x="402.50" y="102.00" font-size="4.7" text-anchor="end" font-weight="normal" fill="#222" >1.0</text>
<line x1="405.50" y1="173.40" x2="405.50" y2="175.20" stroke="#777" stroke-width="0.6" />
<text x="405.50" y="180.70" font-size="4.9" text-anchor="middle" font-weight="normal" fill="#222" >0</text>
<line x1="423.58" y1="173.40" x2="423.58" y2="175.20" stroke="#777" stroke-width="0.6" />
<text x="423.58" y="180.70" font-size="4.9" text-anchor="middle" font-weight="normal" fill="#222" >50</text>
<line x1="441.67" y1="173.40" x2="441.67" y2="175.20" stroke="#777" stroke-width="0.6" />
<text x="441.67" y="180.70" font-size="4.9" text-anchor="middle" font-weight="normal" fill="#222" >100</text>
<line x1="459.75" y1="173.40" x2="459.75" y2="175.20" stroke="#777" stroke-width="0.6" />
<text x="459.75" y="180.70" font-size="4.9" text-anchor="middle" font-weight="normal" fill="#222" >150</text>
<line x1="477.83" y1="173.40" x2="477.83" y2="175.20" stroke="#777" stroke-width="0.6" />
<text x="477.83" y="180.70" font-size="4.9" text-anchor="middle" font-weight="normal" fill="#222" >200</text>
<line x1="495.92" y1="173.40" x2="495.92" y2="175.20" stroke="#777" stroke-width="0.6" />
<text x="495.92" y="180.70" font-size="4.9" text-anchor="middle" font-weight="normal" fill="#222" >250</text>
<line x1="514.00" y1="173.40" x2="514.00" y2="175.20" stroke="#777" stroke-width="0.6" />
<text x="514.00" y="180.70" font-size="4.9" text-anchor="middle" font-weight="normal" fill="#222" >300</text>
<text x="378.50" y="188.60" font-size="11.0" text-anchor="start" font-weight="bold" fill="#000" >F</text>
<line x1="405.50" y1="185.20" x2="514.00" y2="185.20" stroke="#aaa" stroke-width="1.5" />
<line x1="514.00" y1="185.20" x2="514.00" y2="257.00" stroke="#888" stroke-width="1.0" />
<line x1="405.50" y1="185.20" x2="405.50" y2="259.00" stroke="#777" stroke-width="1.1" />
<line x1="405.50" y1="257.00" x2="514.00" y2="257.00" stroke="#777" stroke-width="1.1" />
<line x1="403.30" y1="257.00" x2="405.50" y2="257.00" stroke="#777" stroke-width="0.6" />
<text x="402.50" y="259.00" font-size="4.7" text-anchor="end" font-weight="normal" fill="#222" >0.0</text>
<line x1="403.30" y1="249.82" x2="405.50" y2="249.82" stroke="#777" stroke-width="0.6" />
<text x="402.50" y="251.82" font-size="4.7" text-anchor="end" font-weight="normal" fill="#222" >0.1</text>
<line x1="403.30" y1="242.64" x2="405.50" y2="242.64" stroke="#777" stroke-width="0.6" />
<text x="402.50" y="244.64" font-size="4.7" text-anchor="end" font-weight="normal" fill="#222" >0.2</text>
<line x1="403.30" y1="235.46" x2="405.50" y2="235.46" stroke="#777" stroke-width="0.6" />
<text x="402.50" y="237.46" font-size="4.7" text-anchor="end" font-weight="normal" fill="#222" >0.3</text>
<line x1="403.30" y1="228.28" x2="405.50" y2="228.28" stroke="#777" stroke-width="0.6" />
<text x="402.50" y="230.28" font-size="4.7" text-anchor="end" font-weight="normal" fill="#222" >0.4</text>
<line x1="403.30" y1="221.10" x2="405.50" y2="221.10" stroke="#777" stroke-width="0.6" />
<text x="402.50" y="223.10" font-size="4.7" text-anchor="end" font-weight="normal" fill="#222" >0.5</text>
<line x1="403.30" y1="213.92" x2="405.50" y2="213.92" stroke="#777" stroke-width="0.6" />
<text x="402.50" y="215.92" font-size="4.7" text-anchor="end" font-weight="normal" fill="#222" >0.6</text>
<line x1="403.30" y1="206.74" x2="405.50" y2="206.74" stroke="#777" stroke-width="0.6" />
<text x="402.50" y="208.74" font-size="4.7" text-anchor="end" font-weight="normal" fill="#222" >0.7</text>
<line x1="403.30" y1="199.56" x2="405.50" y2="199.56" stroke="#777" stroke-width="0.6" />
<text x="402.50" y="201.56" font-size="4.7" text-anchor="end" font-weight="normal" fill="#222" >0.8</text>
<line x1="403.30" y1="192.38" x2="405.50" y2="192.38" stroke="#777" stroke-width="0.6" />
<text x="402.50" y="194.38" font-size="4.7" text-anchor="end" font-weight="normal" fill="#222" >0.9</text>
<line x1="403.30" y1="185.20" x2="405.50" y2="185.20" stroke="#777" stroke-width="0.6" />
<text x="402.50" y="187.20" font-size="4.7" text-anchor="end" font-weight="normal" fill="#222" >1.0</text>
<line x1="405.50" y1="257.00" x2="405.50" y2="258.80" stroke="#777" stroke-width="0.6" />
<text x="405.50" y="264.30" font-size="4.9" text-anchor="middle" font-weight="normal" fill="#222" >0</text>
<line x1="423.58" y1="257.00" x2="423.58" y2="258.80" stroke="#777" stroke-width="0.6" />
<text x="423.58" y="264.30" font-size="4.9" text-anchor="middle" font-weight="normal" fill="#222" >50</text>
<line x1="441.67" y1="257.00" x2="441.67" y2="258.80" stroke="#777" stroke-width="0.6" />
<text x="441.67" y="264.30" font-size="4.9" text-anchor="middle" font-weight="normal" fill="#222" >100</text>
<line x1="459.75" y1="257.00" x2="459.75" y2="258.80" stroke="#777" stroke-width="0.6" />
<text x="459.75" y="264.30" font-size="4.9" text-anchor="middle" font-weight="normal" fill="#222" >150</text>
<line x1="477.83" y1="257.00" x2="477.83" y2="258.80" stroke="#777" stroke-width="0.6" />
<text x="477.83" y="264.30" font-size="4.9" text-anchor="middle" font-weight="normal" fill="#222" >200</text>
<line x1="495.92" y1="257.00" x2="495.92" y2="258.80" stroke="#777" stroke-width="0.6" />
<text x="495.92" y="264.30" font-size="4.9" text-anchor="middle" font-weight="normal" fill="#222" >250</text>
<line x1="514.00" y1="257.00" x2="514.00" y2="258.80" stroke="#777" stroke-width="0.6" />
<text x="514.00" y="264.30" font-size="4.9" text-anchor="middle" font-weight="normal" fill="#222" >300</text>
<text x="380.00" y="272.20" font-size="11.0" text-anchor="start" font-weight="bold" fill="#000" >G</text>
<line x1="405.50" y1="270.00" x2="513.50" y2="270.00" stroke="#aaa" stroke-width="1.5" />
<line x1="513.50" y1="270.00" x2="513.50" y2="343.60" stroke="#888" stroke-width="1.0" />
<line x1="405.50" y1="270.00" x2="405.50" y2="345.60" stroke="#777" stroke-width="1.1" />
<line x1="405.50" y1="343.60" x2="513.50" y2="343.60" stroke="#777" stroke-width="1.1" />
<line x1="403.30" y1="343.60" x2="405.50" y2="343.60" stroke="#777" stroke-width="0.6" />
<text x="402.50" y="345.60" font-size="4.7" text-anchor="end" font-weight="normal" fill="#222" >0.0</text>
<line x1="403.30" y1="336.24" x2="405.50" y2="336.24" stroke="#777" stroke-width="0.6" />
<text x="402.50" y="338.24" font-size="4.7" text-anchor="end" font-weight="normal" fill="#222" >0.1</text>
<line x1="403.30" y1="328.88" x2="405.50" y2="328.88" stroke="#777" stroke-width="0.6" />
<text x="402.50" y="330.88" font-size="4.7" text-anchor="end" font-weight="normal" fill="#222" >0.2</text>
<line x1="403.30" y1="321.52" x2="405.50" y2="321.52" stroke="#777" stroke-width="0.6" />
<text x="402.50" y="323.52" font-size="4.7" text-anchor="end" font-weight="normal" fill="#222" >0.3</text>
<line x1="403.30" y1="314.16" x2="405.50" y2="314.16" stroke="#777" stroke-width="0.6" />
<text x="402.50" y="316.16" font-size="4.7" text-anchor="end" font-weight="normal" fill="#222" >0.4</text>
<line x1="403.30" y1="306.80" x2="405.50" y2="306.80" stroke="#777" stroke-width="0.6" />
<text x="402.50" y="308.80" font-size="4.7" text-anchor="end" font-weight="normal" fill="#222" >0.5</text>
<line x1="403.30" y1="299.44" x2="405.50" y2="299.44" stroke="#777" stroke-width="0.6" />
<text x="402.50" y="301.44" font-size="4.7" text-anchor="end" font-weight="normal" fill="#222" >0.6</text>
<line x1="403.30" y1="292.08" x2="405.50" y2="292.08" stroke="#777" stroke-width="0.6" />
<text x="402.50" y="294.08" font-size="4.7" text-anchor="end" font-weight="normal" fill="#222" >0.7</text>
<line x1="403.30" y1="284.72" x2="405.50" y2="284.72" stroke="#777" stroke-width="0.6" />
<text x="402.50" y="286.72" font-size="4.7" text-anchor="end" font-weight="normal" fill="#222" >0.8</text>
<line x1="403.30" y1="277.36" x2="405.50" y2="277.36" stroke="#777" stroke-width="0.6" />
<text x="402.50" y="279.36" font-size="4.7" text-anchor="end" font-weight="normal" fill="#222" >0.9</text>
<line x1="403.30" y1="270.00" x2="405.50" y2="270.00" stroke="#777" stroke-width="0.6" />
<text x="402.50" y="272.00" font-size="4.7" text-anchor="end" font-weight="normal" fill="#222" >1.0</text>
<line x1="405.50" y1="343.60" x2="405.50" y2="345.40" stroke="#777" stroke-width="0.6" />
<text x="405.50" y="350.90" font-size="4.9" text-anchor="middle" font-weight="normal" fill="#222" >0</text>
<line x1="423.50" y1="343.60" x2="423.50" y2="345.40" stroke="#777" stroke-width="0.6" />
<text x="423.50" y="350.90" font-size="4.9" text-anchor="middle" font-weight="normal" fill="#222" >50</text>
<line x1="441.50" y1="343.60" x2="441.50" y2="345.40" stroke="#777" stroke-width="0.6" />
<text x="441.50" y="350.90" font-size="4.9" text-anchor="middle" font-weight="normal" fill="#222" >100</text>
<line x1="459.50" y1="343.60" x2="459.50" y2="345.40" stroke="#777" stroke-width="0.6" />
<text x="459.50" y="350.90" font-size="4.9" text-anchor="middle" font-weight="normal" fill="#222" >150</text>
<line x1="477.50" y1="343.60" x2="477.50" y2="345.40" stroke="#777" stroke-width="0.6" />
<text x="477.50" y="350.90" font-size="4.9" text-anchor="middle" font-weight="normal" fill="#222" >200</text>
<line x1="495.50" y1="343.60" x2="495.50" y2="345.40" stroke="#777" stroke-width="0.6" />
<text x="495.50" y="350.90" font-size="4.9" text-anchor="middle" font-weight="normal" fill="#222" >250</text>
<line x1="513.50" y1="343.60" x2="513.50" y2="345.40" stroke="#777" stroke-width="0.6" />
<text x="513.50" y="350.90" font-size="4.9" text-anchor="middle" font-weight="normal" fill="#222" >300</text>
<path d="M405.50,15.80 H407.44 V16.67 H409.39 V17.54 H411.33 V18.42 H413.28 V19.29 H415.22 V20.16 H417.17 V21.03 H419.11 V21.91 H421.06 V22.78 H423.00 V23.65 H424.94 V24.52 H426.89 V25.39 H428.83 V26.27 H430.78 V27.14 H432.72 V28.01 H434.67 V28.88 H436.61 V29.76" fill="none" stroke="#555" stroke-width="0.8"/>
<rect x="406.44" y="15.39" width="2.02" height="1.96" fill="#222"/>
<rect x="408.59" y="16.42" width="1.59" height="1.65" fill="#222"/>
<rect x="410.36" y="17.47" width="1.95" height="1.29" fill="#222"/>
<rect x="412.28" y="18.17" width="2.00" height="1.63" fill="#222"/>
<rect x="416.40" y="19.77" width="1.53" height="1.92" fill="#222"/>
<rect x="418.04" y="20.55" width="2.13" height="2.10" fill="#222"/>
<rect x="420.54" y="21.61" width="1.03" height="1.74" fill="#222"/>
<rect x="424.31" y="23.41" width="1.26" height="1.62" fill="#222"/>
<rect x="426.26" y="24.28" width="1.27" height="1.64" fill="#222"/>
<rect x="428.19" y="25.25" width="1.28" height="1.43" fill="#222"/>
<rect x="430.00" y="26.09" width="1.55" height="1.49" fill="#222"/>
<rect x="431.72" y="26.83" width="2.01" height="1.76" fill="#222"/>
<rect x="434.05" y="27.49" width="1.22" height="2.19" fill="#222"/>
<path d="M436.61,29.76 H436.61 V30.49 H482.36 V30.49" fill="none" stroke="#808080" stroke-width="0.9"/>
<line x1="440.27" y1="29.29" x2="440.27" y2="31.69" stroke="#666" stroke-width="0.7" />
<line x1="443.93" y1="29.29" x2="443.93" y2="31.69" stroke="#666" stroke-width="0.7" />
<line x1="445.76" y1="29.29" x2="445.76" y2="31.69" stroke="#666" stroke-width="0.7" />
<line x1="448.69" y1="29.29" x2="448.69" y2="31.69" stroke="#666" stroke-width="0.7" />
<line x1="456.74" y1="29.29" x2="456.74" y2="31.69" stroke="#666" stroke-width="0.7" />
<line x1="475.04" y1="29.29" x2="475.04" y2="31.69" stroke="#666" stroke-width="0.7" />
<line x1="482.36" y1="29.29" x2="482.36" y2="31.69" stroke="#666" stroke-width="0.7" />
<path d="M436.61,30.49 H453.08 V30.49 H453.08 V41.14 H515.30 V41.14" fill="none" stroke="#808080" stroke-width="0.9"/>
<line x1="469.55" y1="39.94" x2="469.55" y2="42.34" stroke="#666" stroke-width="0.7" />
<line x1="471.38" y1="39.94" x2="471.38" y2="42.34" stroke="#666" stroke-width="0.7" />
<line x1="478.70" y1="39.94" x2="478.70" y2="42.34" stroke="#666" stroke-width="0.7" />
<line x1="515.30" y1="39.94" x2="515.30" y2="42.34" stroke="#666" stroke-width="0.7" />
<text x="440.4" y="63.3" font-size="9.4" fill="#111"><tspan font-style="italic" font-size="9.8">p</tspan><tspan font-size="8">=</tspan>NS</text>
<text x="440.30" y="74.70" font-size="9.5" text-anchor="start" font-weight="normal" fill="#111" >&gt;1 V&#946; Expansion</text>
<g transform="translate(389.0,50.75) rotate(-90)"><text x="0" y="0" font-size="9.45" text-anchor="middle" fill="#111">Surviving</text></g>
<line x1="386.30" y1="72.80" x2="386.30" y2="79.00" stroke="#000" stroke-width="1.1" />
<polygon points="383.7,77.6 388.9,77.6 386.3,83.3" fill="#000"/>
<path d="M405.50,100.00 H407.31 V101.17 H409.12 V102.34 H410.93 V103.51 H412.73 V104.68 H414.54 V105.85 H416.35 V107.02 H418.16 V108.19 H419.97 V109.36 H421.77 V110.53 H423.58 V111.70 H425.39 V112.87 H427.20 V114.04 H429.01 V115.21 H430.82 V116.38 H432.62 V117.55 H434.43 V118.72" fill="none" stroke="#555" stroke-width="0.8"/>
<rect x="406.30" y="99.89" width="2.02" height="1.96" fill="#222"/>
<rect x="408.32" y="101.21" width="1.59" height="1.65" fill="#222"/>
<rect x="409.95" y="102.56" width="1.95" height="1.29" fill="#222"/>
<rect x="411.73" y="103.56" width="2.00" height="1.63" fill="#222"/>
<rect x="415.58" y="105.76" width="1.53" height="1.92" fill="#222"/>
<rect x="417.09" y="106.84" width="2.13" height="2.10" fill="#222"/>
<rect x="419.45" y="108.19" width="1.03" height="1.74" fill="#222"/>
<rect x="422.95" y="110.59" width="1.26" height="1.62" fill="#222"/>
<rect x="424.76" y="111.75" width="1.27" height="1.64" fill="#222"/>
<rect x="426.56" y="113.02" width="1.28" height="1.43" fill="#222"/>
<rect x="428.23" y="114.16" width="1.55" height="1.49" fill="#222"/>
<rect x="429.81" y="115.20" width="2.01" height="1.76" fill="#222"/>
<rect x="432.01" y="116.15" width="1.22" height="2.19" fill="#222"/>
<path d="M434.43,118.72 H452.52 V118.72 H452.52 V127.89 H514.00 V127.89" fill="none" stroke="#808080" stroke-width="0.9"/>
<line x1="438.05" y1="117.52" x2="438.05" y2="119.92" stroke="#666" stroke-width="0.7" />
<line x1="441.67" y1="117.52" x2="441.67" y2="119.92" stroke="#666" stroke-width="0.7" />
<line x1="445.28" y1="117.52" x2="445.28" y2="119.92" stroke="#666" stroke-width="0.7" />
<line x1="448.90" y1="117.52" x2="448.90" y2="119.92" stroke="#666" stroke-width="0.7" />
<line x1="452.52" y1="117.52" x2="452.52" y2="119.92" stroke="#666" stroke-width="0.7" />
<line x1="459.75" y1="126.69" x2="459.75" y2="129.09" stroke="#666" stroke-width="0.7" />
<line x1="463.37" y1="126.69" x2="463.37" y2="129.09" stroke="#666" stroke-width="0.7" />
<line x1="470.60" y1="126.69" x2="470.60" y2="129.09" stroke="#666" stroke-width="0.7" />
<line x1="481.45" y1="126.69" x2="481.45" y2="129.09" stroke="#666" stroke-width="0.7" />
<line x1="514.00" y1="126.69" x2="514.00" y2="129.09" stroke="#666" stroke-width="0.7" />
<path d="M405.50,100.00 H413.46 V100.00 H413.46 V101.10 H419.24 V101.10 H419.24 V102.94 H421.77 V102.94 H421.77 V103.30 H429.01 V103.30 H429.01 V106.24 H477.83 V106.24" fill="none" stroke="#666" stroke-width="0.9"/>
<line x1="412.73" y1="99.90" x2="412.73" y2="102.30" stroke="#333" stroke-width="0.7" />
<line x1="414.18" y1="99.90" x2="414.18" y2="102.30" stroke="#333" stroke-width="0.7" />
<line x1="415.63" y1="99.90" x2="415.63" y2="102.30" stroke="#333" stroke-width="0.7" />
<line x1="417.07" y1="99.90" x2="417.07" y2="102.30" stroke="#333" stroke-width="0.7" />
<line x1="419.97" y1="102.10" x2="419.97" y2="104.50" stroke="#333" stroke-width="0.7" />
<line x1="422.86" y1="102.10" x2="422.86" y2="104.50" stroke="#333" stroke-width="0.7" />
<line x1="424.31" y1="102.10" x2="424.31" y2="104.50" stroke="#333" stroke-width="0.7" />
<line x1="426.48" y1="102.10" x2="426.48" y2="104.50" stroke="#333" stroke-width="0.7" />
<line x1="429.73" y1="105.04" x2="429.73" y2="107.44" stroke="#333" stroke-width="0.7" />
<line x1="430.45" y1="105.04" x2="430.45" y2="107.44" stroke="#333" stroke-width="0.7" />
<line x1="431.18" y1="105.04" x2="431.18" y2="107.44" stroke="#333" stroke-width="0.7" />
<line x1="431.90" y1="105.04" x2="431.90" y2="107.44" stroke="#333" stroke-width="0.7" />
<line x1="432.62" y1="105.04" x2="432.62" y2="107.44" stroke="#333" stroke-width="0.7" />
<line x1="433.35" y1="105.04" x2="433.35" y2="107.44" stroke="#333" stroke-width="0.7" />
<line x1="434.43" y1="105.04" x2="434.43" y2="107.44" stroke="#333" stroke-width="0.7" />
<line x1="454.32" y1="105.04" x2="454.32" y2="107.44" stroke="#333" stroke-width="0.7" />
<line x1="463.37" y1="105.04" x2="463.37" y2="107.44" stroke="#333" stroke-width="0.7" />
<line x1="468.79" y1="105.04" x2="468.79" y2="107.44" stroke="#333" stroke-width="0.7" />
<line x1="470.60" y1="105.04" x2="470.60" y2="107.44" stroke="#333" stroke-width="0.7" />
<line x1="477.83" y1="105.04" x2="477.83" y2="107.44" stroke="#333" stroke-width="0.7" />
<text x="446.8" y="149.6" font-size="9.4" fill="#111"><tspan font-style="italic" font-size="9.8">p</tspan><tspan font-size="8">=</tspan>0.03</text>
<text x="447.20" y="160.50" font-size="9.3" text-anchor="start" font-weight="normal" fill="#111" >Anemia</text>
<path d="M405.50,185.20 H407.31 V185.56 H409.12 V185.92 H410.93 V186.64 H412.73 V187.00 H414.54 V187.71 H416.35 V188.07 H418.16 V188.43 H419.97 V188.79 H421.77 V189.15 H423.58 V189.51 H425.39 V190.23 H426.48 V190.94 H427.92 V191.66 H429.37 V192.38 H430.82 V193.10 H432.26 V193.82 H433.71 V194.53 H435.16 V195.25 H436.24 V195.61" fill="none" stroke="#555" stroke-width="0.8"/>
<rect x="406.36" y="184.26" width="1.89" height="2.00" fill="#222"/>
<rect x="409.87" y="185.72" width="2.11" height="1.23" fill="#222"/>
<rect x="411.67" y="185.77" width="2.13" height="1.85" fill="#222"/>
<rect x="415.57" y="187.05" width="1.56" height="1.45" fill="#222"/>
<rect x="417.31" y="187.52" width="1.69" height="1.21" fill="#222"/>
<rect x="419.30" y="187.43" width="1.34" height="2.12" fill="#222"/>
<rect x="421.18" y="187.85" width="1.19" height="2.00" fill="#222"/>
<rect x="422.71" y="188.54" width="1.74" height="1.33" fill="#222"/>
<rect x="424.37" y="189.22" width="2.05" height="1.41" fill="#222"/>
<rect x="425.39" y="189.61" width="2.18" height="2.07" fill="#222"/>
<rect x="426.85" y="190.49" width="2.15" height="1.74" fill="#222"/>
<rect x="428.75" y="191.01" width="1.25" height="2.14" fill="#222"/>
<rect x="429.74" y="191.75" width="2.16" height="2.09" fill="#222"/>
<rect x="431.55" y="192.83" width="1.43" height="1.37" fill="#222"/>
<rect x="433.17" y="193.48" width="1.08" height="1.50" fill="#222"/>
<rect x="434.65" y="194.01" width="1.00" height="1.88" fill="#222"/>
<rect x="435.56" y="194.30" width="1.37" height="2.02" fill="#222"/>
<path d="M436.24,195.61 H452.52 V195.61 H452.52 V201.00 H514.00 V201.00" fill="none" stroke="#808080" stroke-width="0.9"/>
<line x1="439.86" y1="194.41" x2="439.86" y2="196.81" stroke="#666" stroke-width="0.7" />
<line x1="443.48" y1="194.41" x2="443.48" y2="196.81" stroke="#666" stroke-width="0.7" />
<line x1="447.09" y1="194.41" x2="447.09" y2="196.81" stroke="#666" stroke-width="0.7" />
<line x1="450.71" y1="194.41" x2="450.71" y2="196.81" stroke="#666" stroke-width="0.7" />
<line x1="459.75" y1="199.80" x2="459.75" y2="202.20" stroke="#666" stroke-width="0.7" />
<line x1="465.18" y1="199.80" x2="465.18" y2="202.20" stroke="#666" stroke-width="0.7" />
<line x1="470.60" y1="199.80" x2="470.60" y2="202.20" stroke="#666" stroke-width="0.7" />
<line x1="477.83" y1="199.80" x2="477.83" y2="202.20" stroke="#666" stroke-width="0.7" />
<line x1="481.45" y1="199.80" x2="481.45" y2="202.20" stroke="#666" stroke-width="0.7" />
<path d="M405.50,185.20 H409.12 V185.20 H409.12 V189.51 H410.56 V189.51 H410.56 V196.69 H413.46 V196.69 H413.46 V199.56 H416.35 V199.56 H416.35 V203.87 H424.31 V203.87 H424.31 V208.18 H425.75 V208.18 H425.75 V212.48 H427.92 V212.48 H427.92 V218.23 H441.67 V218.23" fill="none" stroke="#777" stroke-width="0.9"/>
<line x1="430.09" y1="217.03" x2="430.09" y2="219.43" stroke="#666" stroke-width="0.7" />
<line x1="431.54" y1="217.03" x2="431.54" y2="219.43" stroke="#666" stroke-width="0.7" />
<line x1="432.62" y1="217.03" x2="432.62" y2="219.43" stroke="#666" stroke-width="0.7" />
<line x1="434.43" y1="217.03" x2="434.43" y2="219.43" stroke="#666" stroke-width="0.7" />
<line x1="436.24" y1="217.03" x2="436.24" y2="219.43" stroke="#666" stroke-width="0.7" />
<line x1="441.67" y1="217.03" x2="441.67" y2="219.43" stroke="#666" stroke-width="0.7" />
<line x1="412.01" y1="195.49" x2="412.01" y2="197.89" stroke="#666" stroke-width="0.7" />
<line x1="418.16" y1="202.67" x2="418.16" y2="205.07" stroke="#666" stroke-width="0.7" />
<line x1="419.97" y1="202.67" x2="419.97" y2="205.07" stroke="#666" stroke-width="0.7" />
<line x1="421.77" y1="202.67" x2="421.77" y2="205.07" stroke="#666" stroke-width="0.7" />
<text x="446.6" y="238.0" font-size="9.4" fill="#111"><tspan font-style="italic" font-size="9.8">p</tspan><tspan font-size="8">=</tspan>0.0005</text>
<text x="447.20" y="248.20" font-size="9.4" text-anchor="start" font-weight="normal" fill="#111" >Lymphopenia</text>
<path d="M410.90,270.00 H412.88 V270.85 H414.86 V271.69 H416.84 V272.54 H418.82 V273.39 H420.80 V274.23 H422.78 V275.08 H424.76 V275.92 H426.74 V276.77 H428.72 V277.62 H430.70 V278.46" fill="none" stroke="#555" stroke-width="0.8"/>
<rect x="411.87" y="269.56" width="2.02" height="1.96" fill="#222"/>
<rect x="414.06" y="270.57" width="1.59" height="1.65" fill="#222"/>
<rect x="415.87" y="271.59" width="1.95" height="1.29" fill="#222"/>
<rect x="417.82" y="272.27" width="2.00" height="1.63" fill="#222"/>
<rect x="422.01" y="273.82" width="1.53" height="1.92" fill="#222"/>
<rect x="423.69" y="274.57" width="2.13" height="2.10" fill="#222"/>
<rect x="426.22" y="275.60" width="1.03" height="1.74" fill="#222"/>
<rect x="430.07" y="277.35" width="1.26" height="1.62" fill="#222"/>
<path d="M405.50,270.00 H410.90 V270.00" fill="none" stroke="#808080" stroke-width="0.9"/>
<path d="M430.70,278.46 H457.70 V278.46" fill="none" stroke="#808080" stroke-width="0.9"/>
<line x1="434.30" y1="277.26" x2="434.30" y2="279.66" stroke="#666" stroke-width="0.7" />
<line x1="441.50" y1="277.26" x2="441.50" y2="279.66" stroke="#666" stroke-width="0.7" />
<line x1="446.90" y1="277.26" x2="446.90" y2="279.66" stroke="#666" stroke-width="0.7" />
<line x1="452.30" y1="277.26" x2="452.30" y2="279.66" stroke="#666" stroke-width="0.7" />
<line x1="457.70" y1="277.26" x2="457.70" y2="279.66" stroke="#666" stroke-width="0.7" />
<path d="M425.30,276.62 H425.30 V280.30 H427.10 V280.30 H427.10 V286.19 H452.30 V286.19 H452.30 V297.23 H513.50 V297.23" fill="none" stroke="#808080" stroke-width="0.9"/>
<line x1="434.30" y1="284.99" x2="434.30" y2="287.39" stroke="#666" stroke-width="0.7" />
<line x1="445.10" y1="284.99" x2="445.10" y2="287.39" stroke="#666" stroke-width="0.7" />
<line x1="450.50" y1="284.99" x2="450.50" y2="287.39" stroke="#666" stroke-width="0.7" />
<line x1="459.50" y1="296.03" x2="459.50" y2="298.43" stroke="#666" stroke-width="0.7" />
<line x1="468.50" y1="296.03" x2="468.50" y2="298.43" stroke="#666" stroke-width="0.7" />
<line x1="477.50" y1="296.03" x2="477.50" y2="298.43" stroke="#666" stroke-width="0.7" />
<line x1="513.50" y1="296.03" x2="513.50" y2="298.43" stroke="#666" stroke-width="0.7" />
<text x="446.6" y="325.0" font-size="9.4" fill="#111"><tspan font-style="italic" font-size="9.8">p</tspan><tspan font-size="8">=</tspan>NS</text>
<text x="447.00" y="335.60" font-size="9.3" text-anchor="start" font-weight="normal" fill="#111" >Clone Switch</text>
<text x="458.60" y="358.20" font-size="9.5" text-anchor="middle" font-weight="normal" fill="#111" >Time (months)</text>
</svg>
</body></html>
